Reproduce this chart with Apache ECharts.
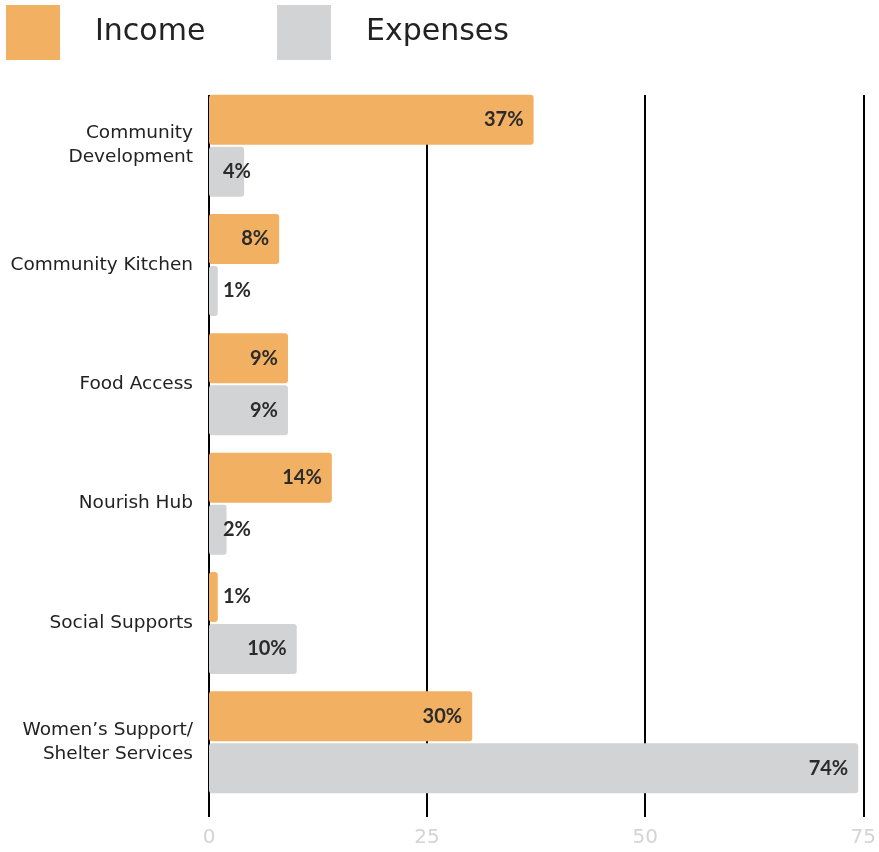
<!DOCTYPE html>
<html>
<head>
<meta charset="utf-8">
<script src="https://cdn.jsdelivr.net/npm/echarts@6/dist/echarts.min.js"></script>
<style>
  html, body { margin: 0; padding: 0; background: #fff; }
  #main { width: 879px; height: 852px; }
</style>
</head>
<body>
<div id="main"></div>
<script>
// data
var programs = ['Community\nDevelopment', 'Community Kitchen', 'Food Access', 'Nourish Hub', 'Social Supports', 'Women\u2019s Support/\nShelter Services'];
var income = [37, 8, 9, 14, 1, 30];
var expenses = [4, 1, 9, 2, 10, 74];
var xTicks = [0, 25, 50, 75];

var FONT = '"DejaVu Sans", sans-serif';
var LABEL_FONT = 'Lato, "Open Sans", sans-serif';

// small bars get their label at the start, others inside the end
function withLabels(arr) {
    return arr.map(function (v) {
        return {
            value: v,
            label: v < 5 ? { position: 'insideLeft', distance: 14 } : { position: 'insideRight', distance: 10 }
        };
    });
}

var myChart = echarts.init(document.getElementById('main'));
var legendText = { fontSize: 30, color: '#222', padding: [0, 0, 0, 30], fontFamily: FONT };
var option = {
    animation: false,
    textStyle: { fontFamily: FONT },
    legend: [{
        data: [{ name: 'Income', icon: 'rect' }],
        left: 6, top: 5, padding: 0,
        itemWidth: 54, itemHeight: 55,
        textStyle: legendText
    }, {
        data: [{ name: 'Expenses', icon: 'rect' }],
        left: 277, top: 5, padding: 0,
        itemWidth: 54, itemHeight: 55,
        textStyle: legendText
    }],
    grid: [
        { left: 209, right: 12, top: 86, bottom: 50 },
        { left: 209, right: 12, top: 95, bottom: 35 }
    ],
    xAxis: [{
        gridIndex: 0,
        type: 'value', min: 0, max: 75, interval: 25,
        axisLine: { show: false }, axisTick: { show: false },
        axisLabel: { show: false }, splitLine: { show: false }
    }, {
        gridIndex: 1,
        type: 'value', min: xTicks[0], max: xTicks[xTicks.length - 1], interval: 25,
        axisLine: { show: false }, axisTick: { show: false },
        axisLabel: { color: '#d4d4d4', fontSize: 20, margin: 11, fontFamily: FONT },
        splitLine: { show: true, lineStyle: { color: '#000', width: 2 } }
    }],
    yAxis: [{
        gridIndex: 0,
        type: 'category', data: programs, inverse: true,
        axisLine: { show: false }, axisTick: { show: false },
        axisLabel: { color: '#222', fontSize: 18.5, margin: 16, lineHeight: 24, align: 'right', fontFamily: FONT }
    }, {
        gridIndex: 1,
        type: 'category', data: programs, inverse: true,
        show: false
    }],
    series: [{
        name: 'Income', type: 'bar',
        xAxisIndex: 0, yAxisIndex: 0,
        barWidth: 50, barGap: '4%',
        itemStyle: { color: '#F1B062', borderRadius: 3 },
        label: { show: true, formatter: '{c}%', color: '#2b2b2b', fontSize: 20, fontWeight: 'bold', fontFamily: LABEL_FONT },
        data: withLabels(income)
    }, {
        name: 'Expenses', type: 'bar',
        xAxisIndex: 0, yAxisIndex: 0,
        barWidth: 50,
        itemStyle: { color: '#D1D3D4', borderRadius: 3 },
        label: { show: true, formatter: '{c}%', color: '#2b2b2b', fontSize: 20, fontWeight: 'bold', fontFamily: LABEL_FONT },
        data: withLabels(expenses)
    }]
};
myChart.setOption(option);
</script>
</body>
</html>
